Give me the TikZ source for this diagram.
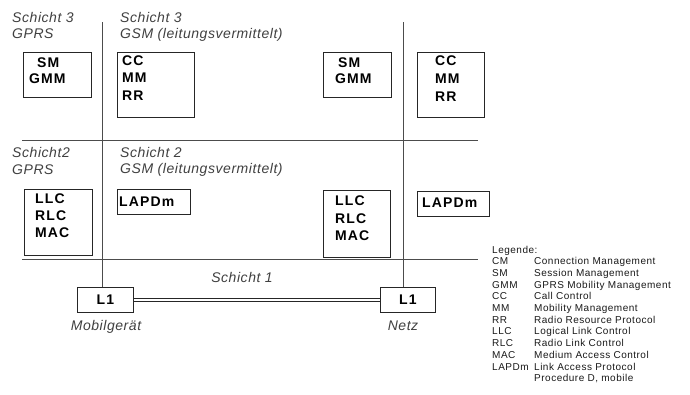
\documentclass[tikz,border=0pt]{standalone}
\usepackage{fontspec}
\setmainfont{Liberation Sans}
\newfontfamily\boxfont[LetterSpace=8]{Liberation Sans}
\newfontfamily\labfont[LetterSpace=4]{Liberation Sans}
\newfontfamily\legfont[LetterSpace=5]{Liberation Sans}
\begin{document}
\begin{tikzpicture}[x=1pt,y=-1pt,
  frame/.style={draw=black!85, line width=0.8pt, inner sep=0pt, anchor=north west},
  l1box/.style={draw=black!85, line width=0.8pt, inner sep=0pt, anchor=north west,
     font=\boxfont\bfseries\fontsize{14}{16}\selectfont},
  boxtxt/.style={anchor=base west, inner sep=0pt, font=\boxfont\bfseries\fontsize{14}{16}\selectfont},
  lab/.style={anchor=base west, inner sep=0pt, text=black!75, font=\labfont\itshape\fontsize{14}{16}\selectfont},
  labc/.style={lab, anchor=base},
  leg/.style={anchor=base west, inner sep=0pt, text=black!90, font=\legfont\fontsize{10}{12}\selectfont},
  sep/.style={draw=black!70, line width=0.9pt}
]
\useasboundingbox (0,0) rectangle (690,394);

% separator lines
\coordinate (h1a) at (22,140);
\coordinate (h1b) at (478,140);
\coordinate (h2a) at (22,259);
\coordinate (h2b) at (478,259);
\coordinate (v1t) at (102,22);
\coordinate (v2t) at (403,22);

% boxes
\node[frame, minimum width=68pt, minimum height=45pt] (sm1) at (23,52) {};
\node[frame, minimum width=77pt, minimum height=65pt] (cc1) at (117,52) {};
\node[frame, minimum width=68pt, minimum height=45pt] (sm2) at (323,52) {};
\node[frame, minimum width=67pt, minimum height=65pt] (cc2) at (417,52) {};
\node[frame, minimum width=68pt, minimum height=66pt] (llc1) at (24,189) {};
\node[frame, minimum width=73pt, minimum height=25pt] (lap1) at (117,189) {};
\node[frame, minimum width=67pt, minimum height=67pt] (llc2) at (323,190) {};
\node[frame, minimum width=72pt, minimum height=25pt] (lap2) at (417,191) {};
\node[l1box, minimum width=56pt, minimum height=25pt] (l1a) at (77,287) {L1};
\node[l1box, minimum width=55pt, minimum height=25pt] (l1b) at (380,287) {L1};

\draw[sep] (h1a) -- (h1b);
\draw[sep] (h2a) -- (h2b);
\draw[sep] (v1t) -- (v1t |- l1a.north);
\draw[sep] (v2t) -- (v2t |- l1b.north);
\draw[black!85, line width=0.9pt, double=white, double distance=1.8pt] (l1a.east) -- (l1b.west);

% box texts
\node[boxtxt] (t1) at (37,67) {SM};
\node[boxtxt] (t2) at (29,83) {GMM};
\node[boxtxt] (t3) at (122,65) {CC};
\node[boxtxt] (t4) at (122,82) {MM};
\node[boxtxt] (t5) at (122,100) {RR};
\node[boxtxt] (t6) at (338,67) {SM};
\node[boxtxt] (t7) at (335,83) {GMM};
\node[boxtxt] (t8) at (435,65) {CC};
\node[boxtxt] (t9) at (435,83) {MM};
\node[boxtxt] (t10) at (435,101) {RR};
\node[boxtxt] (t11) at (35,203) {LLC};
\node[boxtxt] (t12) at (35,220) {RLC};
\node[boxtxt] (t13) at (35,237) {MAC};
\node[boxtxt] (t14) at (119,206) {LAPDm};
\node[boxtxt] (t15) at (335,205) {LLC};
\node[boxtxt] (t16) at (335,223) {RLC};
\node[boxtxt] (t17) at (335,240) {MAC};
\node[boxtxt] (t18) at (422,207) {LAPDm};

% italic labels
\node[lab] (a1) at (12,22) {Schicht 3};
\node[lab] (a2) at (12,38) {GPRS};
\node[lab] (a3) at (120,22) {Schicht 3};
\node[lab] (a4) at (120,38) {GSM (leitungsvermittelt)};
\node[lab] (a5) at (12,157) {Schicht2};
\node[lab] (a6) at (12,174) {GPRS};
\node[lab] (a7) at (120,157) {Schicht 2};
\node[lab] (a8) at (120,173) {GSM (leitungsvermittelt)};
\node[labc] (a9) at (242,282) {Schicht 1};
\node[labc] (a10) at (106,330) {Mobilgerät};
\node[labc] (a11) at (403,330) {Netz};

% legend
\node[leg] (lg) at (492,253) {Legende:};
\foreach \k/\v [count=\i] in {CM/Connection Management, SM/Session Management,
  GMM/GPRS Mobility Management, CC/Call Control, MM/Mobility Management,
  RR/Radio Resource Protocol, LLC/Logical Link Control, RLC/Radio Link Control,
  MAC/Medium Access Control, LAPDm/Link Access Protocol}{
  \node[leg] (lk\i) at (492,253+11.7*\i) {\k};
  \node[leg] (lv\i) at (534,253+11.7*\i) {\v};
}
\node[leg] (lv11) at (534,253+11.7*11) {Procedure D, mobile};
\end{tikzpicture}
\end{document}
